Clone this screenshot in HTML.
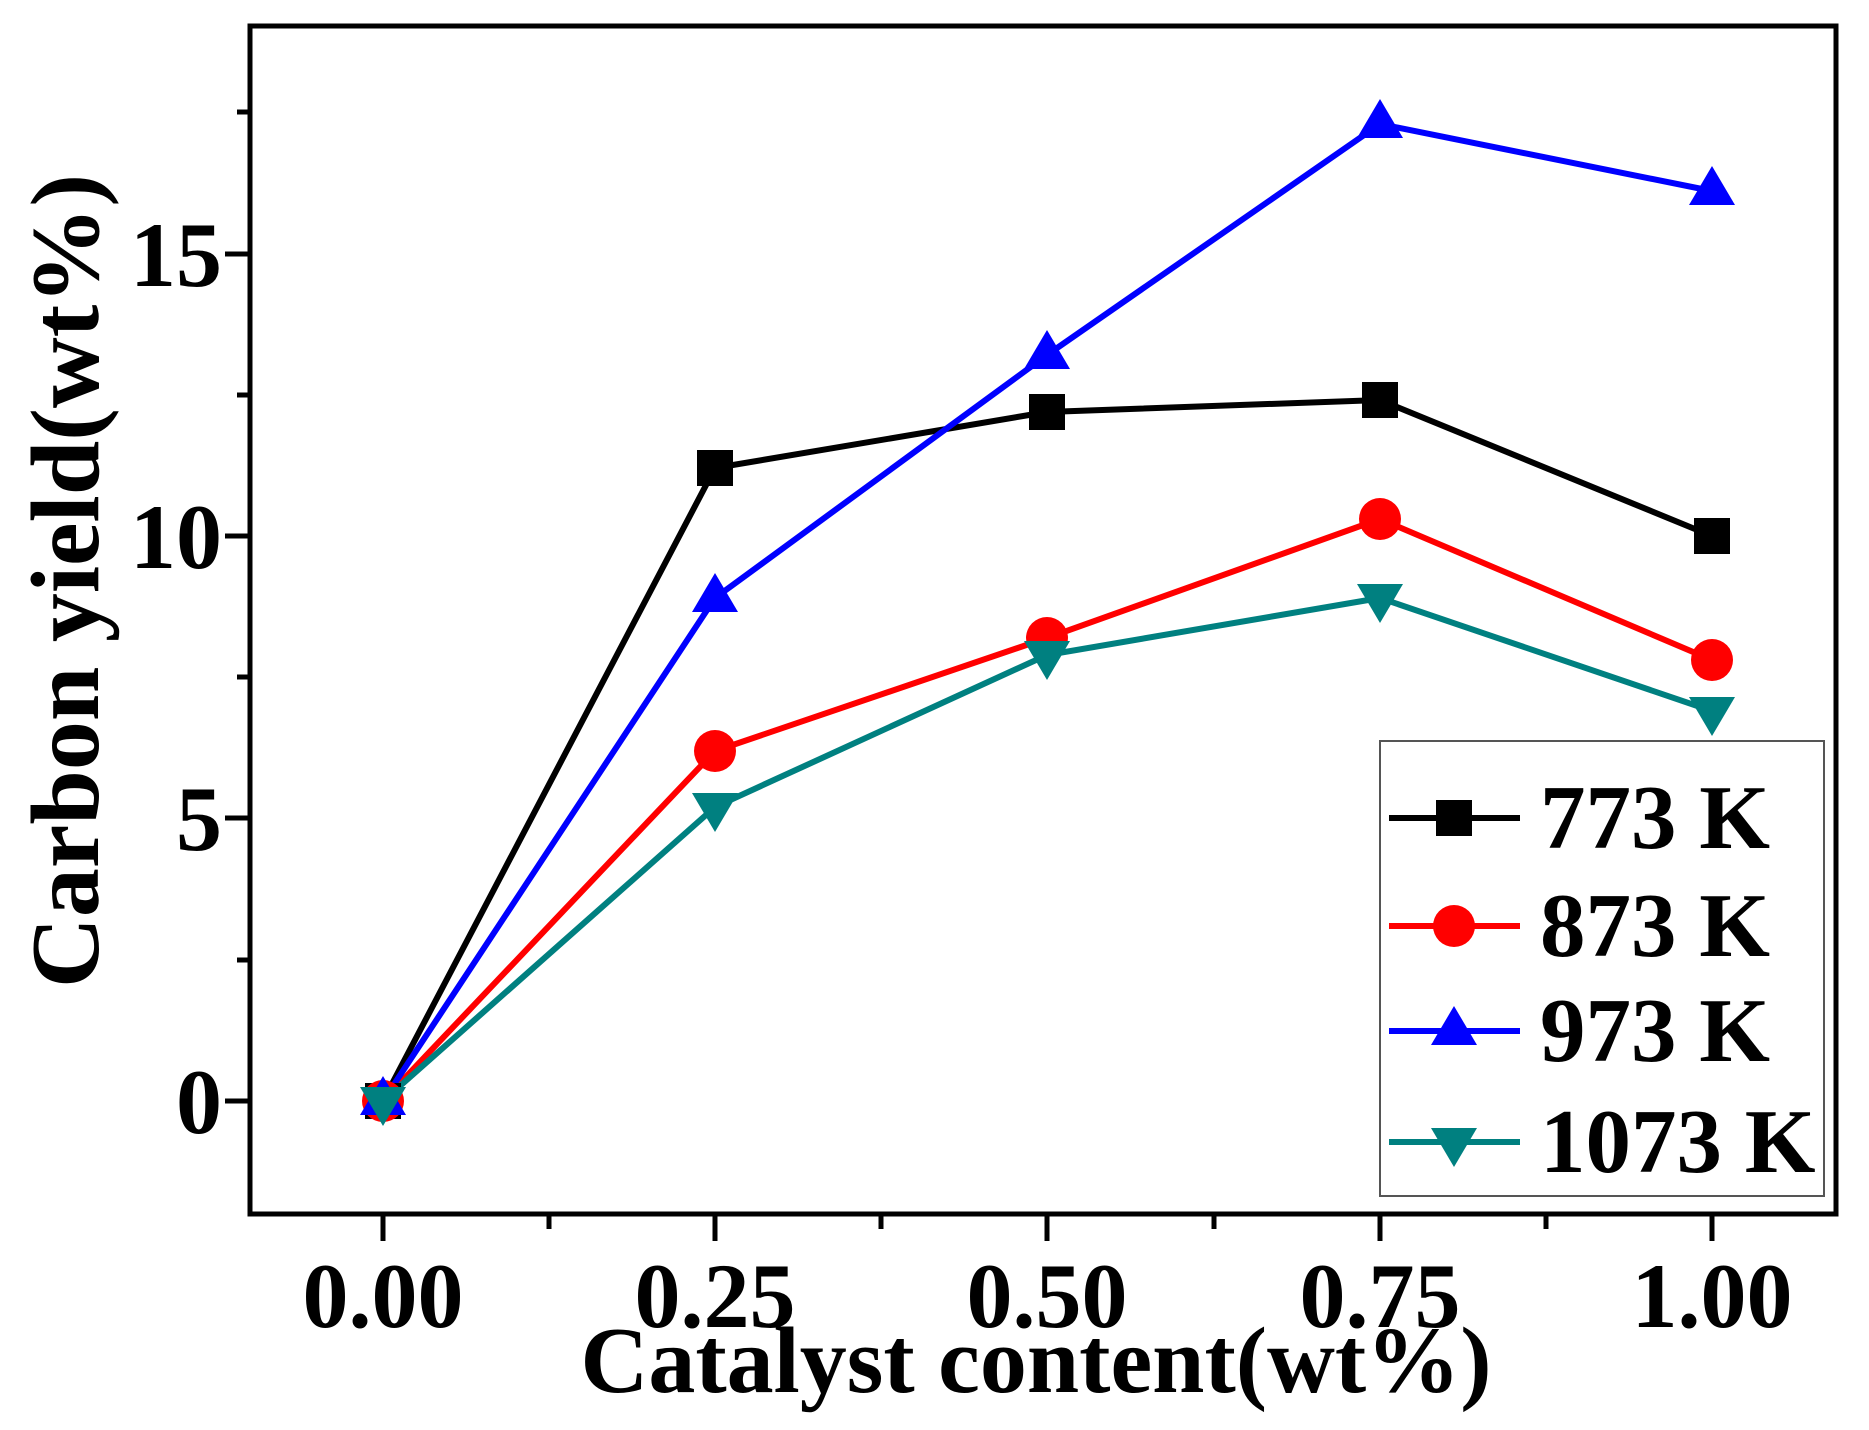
<!DOCTYPE html><html><head><style>body{margin:0;background:#fff}svg{display:block}text{font-family:"Liberation Serif",serif;font-weight:bold}</style></head><body>
<svg width="1869" height="1430" viewBox="0 0 1869 1430">
<rect x="250" y="26" width="1586" height="1188" fill="none" stroke="#000" stroke-width="5"/>
<g stroke="#000" stroke-width="5">
<line x1="383" y1="1214" x2="383" y2="1241"/><line x1="549" y1="1214" x2="549" y2="1229"/>
<line x1="715" y1="1214" x2="715" y2="1241"/><line x1="881" y1="1214" x2="881" y2="1229"/>
<line x1="1047" y1="1214" x2="1047" y2="1241"/><line x1="1214" y1="1214" x2="1214" y2="1229"/>
<line x1="1380" y1="1214" x2="1380" y2="1241"/><line x1="1546" y1="1214" x2="1546" y2="1229"/>
<line x1="1712" y1="1214" x2="1712" y2="1241"/>
<line x1="225" y1="1101" x2="250" y2="1101"/><line x1="237" y1="960" x2="250" y2="960"/>
<line x1="225" y1="818" x2="250" y2="818"/><line x1="237" y1="677" x2="250" y2="677"/>
<line x1="225" y1="536" x2="250" y2="536"/><line x1="237" y1="395" x2="250" y2="395"/>
<line x1="225" y1="254" x2="250" y2="254"/><line x1="237" y1="112" x2="250" y2="112"/>
</g>
<g font-size="92" text-anchor="middle">
<text x="383" y="1327">0.00</text><text x="715" y="1327">0.25</text><text x="1047" y="1327">0.50</text><text x="1380" y="1327">0.75</text><text x="1712" y="1327">1.00</text>
</g>
<g font-size="92" text-anchor="end">
<text x="222" y="1133">0</text><text x="222" y="850">5</text><text x="222" y="568">10</text><text x="222" y="286">15</text>
</g>
<text x="1036" y="1392" font-size="94" text-anchor="middle">Catalyst content(wt%)</text>
<text transform="translate(98,581) rotate(-90)" font-size="98" text-anchor="middle">Carbon yield(wt%)</text>
<g fill="none" stroke-width="6">
<polyline stroke="#000" points="383,1101 715,468 1047,412 1380,400 1712,536"/>
<polyline stroke="#f00" points="383,1101 715,751 1047,638 1380,519 1712,660"/>
<polyline stroke="#00f" points="383,1101 715,598 1047,355 1380,124 1712,191"/>
<polyline stroke="#008080" points="383,1101 715,807 1047,655 1380,598 1712,711"/>
</g>
<g fill="#000"><rect x="365" y="1083" width="36" height="36"/><rect x="697" y="450" width="36" height="36"/><rect x="1029" y="394" width="36" height="36"/><rect x="1362" y="382" width="36" height="36"/><rect x="1694" y="518" width="36" height="36"/></g>
<g fill="#f00"><circle cx="383" cy="1101" r="21"/><circle cx="715" cy="751" r="21"/><circle cx="1047" cy="638" r="21"/><circle cx="1380" cy="519" r="21"/><circle cx="1712" cy="660" r="21"/></g>
<g fill="#00f">
<polygon points="383,1076 406,1115 360,1115"/><polygon points="715,573 738,612 692,612"/><polygon points="1047,330 1070,369 1024,369"/><polygon points="1380,99 1403,138 1357,138"/><polygon points="1712,166 1735,205 1689,205"/></g>
<g fill="#008080">
<polygon points="383,1126 406,1087 360,1087"/><polygon points="715,832 738,793 692,793"/><polygon points="1047,680 1070,641 1024,641"/><polygon points="1380,623 1403,584 1357,584"/><polygon points="1712,736 1735,697 1689,697"/></g>
<rect x="1380" y="741" width="444" height="455" fill="#fff" stroke="#555" stroke-width="2"/>
<g stroke-width="6">
<line x1="1389" y1="818" x2="1520" y2="818" stroke="#000"/><line x1="1389" y1="926" x2="1520" y2="926" stroke="#f00"/>
<line x1="1389" y1="1031" x2="1520" y2="1031" stroke="#00f"/><line x1="1389" y1="1142" x2="1520" y2="1142" stroke="#008080"/>
</g>
<rect x="1436" y="800" width="36" height="36" fill="#000"/>
<circle cx="1454" cy="926" r="21" fill="#f00"/>
<polygon points="1454,1006 1477,1045 1431,1045" fill="#00f"/>
<polygon points="1454,1167 1477,1128 1431,1128" fill="#008080"/>
<g font-size="91"><text x="1540" y="848">773 K</text><text x="1540" y="956">873 K</text><text x="1540" y="1061">973 K</text><text x="1540" y="1172">1073 K</text></g>
</svg></body></html>
